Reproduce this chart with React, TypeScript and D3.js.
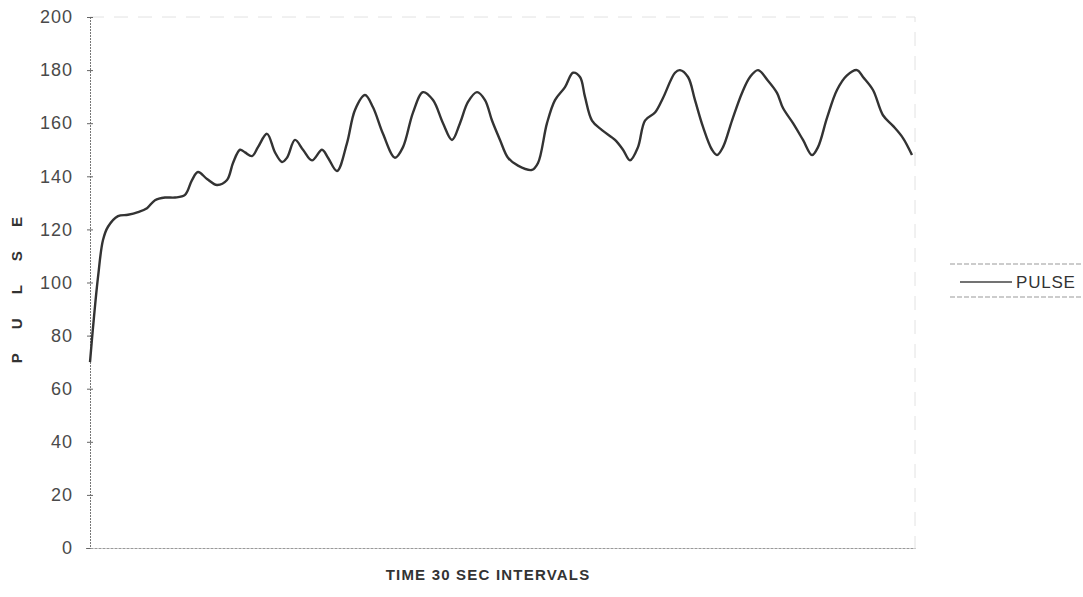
import React, { useRef, useEffect } from "react";
import * as d3 from "d3";

// time in 30 sec intervals and pulse readings
const intervals = [
	0, 0.3, 0.8, 1.3, 1.8, 2.8, 3.8, 4.8, 5.7, 6.5,
	7.5, 8.5, 9.5, 10.2, 10.8, 11.7, 12.7, 13.7, 14.3, 15,
	15.5, 16.2, 16.8, 17.7, 18.5, 19.2, 19.7, 20.5, 21.3, 22.2,
	23.2, 23.8, 24.7, 25.7, 26.5, 27.5, 28.3, 29.3, 30.5, 31.3,
	32.3, 33.3, 34.3, 35.3, 36.2, 37, 37.8, 38.7, 39.5, 40.2,
	41, 41.8, 42.8, 44.2, 44.8, 45.7, 46.5, 47.5, 48.3, 49,
	49.5, 50.2, 51.2, 52.5, 53.3, 54, 54.8, 55.5, 56.5, 57.3,
	58.5, 59, 59.8, 60.5, 61.3, 62.2, 62.7, 63.3, 64.2, 65.2,
	66, 66.8, 67.8, 68.7, 69.3, 70.3, 71.3, 72.2, 72.8, 73.7,
	74.7, 75.7, 76.7, 77.3, 78.3, 79.3, 80.3, 81.3, 82.2
];

const pulse = [
	70, 83, 102, 116, 121, 125, 125.5, 126.5, 128, 131,
	132, 132, 133, 138.6, 141.6, 139, 136.7, 138.6, 145, 150,
	149, 147.6, 151, 156, 149, 145.4, 147, 153.7, 150, 146,
	150, 147, 142, 152.5, 165, 170.6, 166, 156, 147, 151,
	164, 171.7, 168.7, 160, 153.7, 160, 168, 171.7, 168.7, 161,
	153.7, 147, 144, 142.4, 145, 160, 168.7, 173.6, 179, 177.4,
	169.9, 161, 157.4, 153.7, 150, 146, 151, 161, 164, 169.5,
	179, 180, 177.4, 168.7, 158.6, 150, 148, 151, 161, 171.4,
	177.4, 180, 176, 171.4, 165.7, 160, 153.7, 148, 151, 162,
	172.5, 178, 180, 177.4, 172.5, 163, 159, 154.4, 148
];

const yTicks = [0, 20, 40, 60, 80, 100, 120, 140, 160, 180, 200];
const seriesName = "PULSE";
const yTitle = "P U L S E";
const xTitle = "TIME 30 SEC INTERVALS";

const App = () => {
	const chartRef = useRef<SVGSVGElement>(null);

	useEffect(() => {
		const width = 1083;
		const height = 597;
		const margin = { top: 17, right: 168, bottom: 49, left: 90 };

		d3.select(chartRef.current).selectAll("*").remove();

		const svg = d3
			.select(chartRef.current)
			.attr("width", width)
			.attr("height", height)
			.style("font-family", "'Liberation Sans', Arial, sans-serif");

		svg.append("rect").attr("width", width).attr("height", height).attr("fill", "#fff");

		const xScale = d3.scaleLinear()
			.domain([0, 82.5])
			.range([margin.left, width - margin.right]);

		const yScale = d3.scaleLinear()
			.domain([0, 200])
			.range([height - margin.bottom, margin.top]);

		// faint plot frame (top and right), barely visible on the scan
		svg.append("path")
			.attr("d", `M${xScale(0)},${yScale(200)}H${xScale(82.5)}V${yScale(0)}`)
			.attr("fill", "none")
			.attr("stroke", "#e2e2e2")
			.attr("stroke-width", 1)
			.attr("stroke-dasharray", "14,10");

		// y axis
		const yAxis = d3.axisLeft(yScale)
			.tickValues(yTicks)
			.tickSize(4)
			.tickPadding(13);

		const gy = svg.append("g")
			.attr("transform", `translate(${margin.left}, 0)`)
			.call(yAxis);
		gy.select(".domain").attr("stroke", "#777").attr("stroke-dasharray", "2,1");
		gy.selectAll(".tick line").attr("stroke", "#666").attr("x2", 3).attr("x1", -3);
		gy.selectAll(".tick text")
			.attr("font-size", 18)
			.attr("letter-spacing", 1)
			.attr("fill", "#4a4a4a")
			.attr("font-family", "'Liberation Sans', Arial, sans-serif");

		// x axis, no labels
		const xAxis = d3.axisBottom(xScale).tickValues([]).tickSizeOuter(0);
		const gx = svg.append("g")
			.attr("transform", `translate(0, ${height - margin.bottom})`)
			.call(xAxis);
		gx.select(".domain").attr("stroke", "#999").attr("stroke-dasharray", "3,1");

		// the pulse line
		const line = d3.line<number>()
			.x((d, i) => xScale(intervals[i]))
			.y(d => yScale(d))
			.curve(d3.curveCatmullRom.alpha(0.5));

		svg.append("path")
			.datum(pulse)
			.attr("d", line)
			.attr("fill", "none")
			.attr("stroke", "#333")
			.attr("stroke-width", 2.4)
			.attr("stroke-linejoin", "round");

		// axis titles
		svg.append("text")
			.attr("transform", `translate(22, ${yScale(99)}) rotate(-90)`)
			.attr("text-anchor", "middle")
			.attr("font-size", 15)
			.attr("font-weight", "bold")
			.attr("fill", "#333")
			.attr("letter-spacing", 10)
			.text(yTitle);

		svg.append("text")
			.attr("x", 488)
			.attr("y", height - 17)
			.attr("text-anchor", "middle")
			.attr("font-size", 15)
			.attr("font-weight", "bold")
			.attr("fill", "#333")
			.attr("letter-spacing", 1.2)
			.text(xTitle);

		// legend
		const legend = svg.append("g").attr("transform", `translate(950, 264)`);
		legend.append("line")
			.attr("x1", 0).attr("x2", 140).attr("y1", 0).attr("y2", 0)
			.attr("stroke", "#999").attr("stroke-dasharray", "5,2");
		legend.append("line")
			.attr("x1", 0).attr("x2", 140).attr("y1", 33).attr("y2", 33)
			.attr("stroke", "#999").attr("stroke-dasharray", "5,2");
		legend.append("line")
			.attr("x1", 10).attr("x2", 62).attr("y1", 18).attr("y2", 18)
			.attr("stroke", "#444").attr("stroke-width", 1.5);
		legend.append("text")
			.attr("x", 66)
			.attr("y", 24)
			.attr("font-size", 17)
			.attr("letter-spacing", 0.8)
			.attr("fill", "#333")
			.text(seriesName);
	}, []);

	return (
		<div style={{ position: "fixed", left: 0, top: 0 }}>
			<svg ref={chartRef} style={{ display: "block" }}></svg>
		</div>
	);
};

export default App;
